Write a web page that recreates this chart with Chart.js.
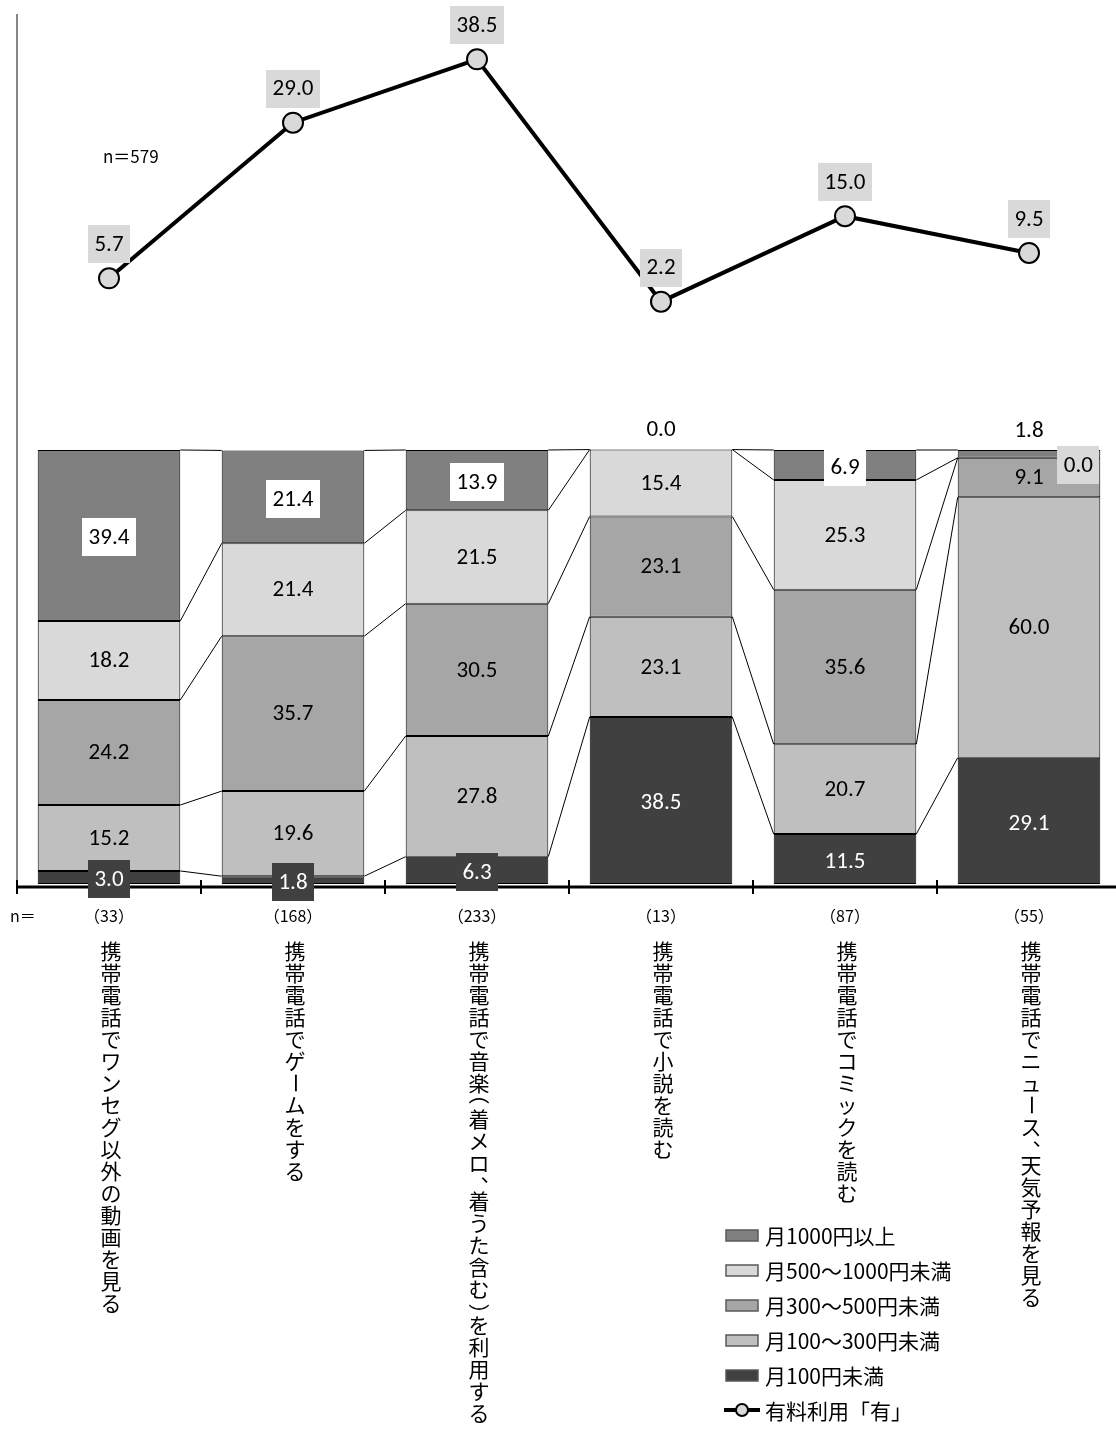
<!DOCTYPE html>
<html lang="ja">
<head>
  <meta charset="UTF-8" />
  <title>携帯電話の有料利用</title>
  <script src="https://cdn.jsdelivr.net/npm/chart.js"></script>
  <style>
    html, body {
      margin: 0;
      padding: 0;
      background: #fff;
      overflow: hidden;
    }

    canvas {
      display: block;
    }
  </style>
</head>
<body>
  <canvas id="usageChart" width="1121" height="1429"></canvas>

  <script>
    // Categories and respondents per category
    const categories = [
      '携帯電話でワンセグ以外の動画を見る',
      '携帯電話でゲームをする',
      '携帯電話で音楽（着メロ、着うた含む）を利用する',
      '携帯電話で小説を読む',
      '携帯電話でコミックを読む',
      '携帯電話でニュース、天気予報を見る'
    ];
    const sampleSizes = [33, 168, 233, 13, 87, 55];
    const totalN = 579;

    // Monthly spend breakdown (%), stacked from the bottom up
    const under100 = [3.0, 1.8, 6.3, 38.5, 11.5, 29.1];
    const from100to300 = [15.2, 19.6, 27.8, 23.1, 20.7, 60.0];
    const from300to500 = [24.2, 35.7, 30.5, 23.1, 35.6, 9.1];
    const from500to1000 = [18.2, 21.4, 21.5, 15.4, 25.3, 0.0];
    const over1000 = [39.4, 21.4, 13.9, 0.0, 6.9, 1.8];

    // Share that pays at all (%)
    const paidUse = [5.7, 29.0, 38.5, 2.2, 15.0, 9.5];

    const seriesNames = ['月100円未満', '月100～300円未満', '月300～500円未満', '月500～1000円未満', '月1000円以上'];
    const seriesColors = ['#404040', '#bfbfbf', '#a6a6a6', '#d9d9d9', '#808080'];
    const barSeries = [under100, from100to300, from300to500, from500to1000, over1000];
    const lineName = '有料利用「有」';

    const numFont = '23px Carlito, Lato, sans-serif';
    const jpFont = '"Noto Sans CJK JP", sans-serif';

    // value text, optionally on a filled tag
    function drawTag(ctx, text, x, y, fill, color) {
      ctx.font = numFont;
      const w = Math.round(ctx.measureText(text).width + 13);
      if (fill) {
        ctx.fillStyle = fill;
        ctx.fillRect(Math.round(x - w / 2), Math.round(y - 19), w, 38);
      }
      ctx.fillStyle = color;
      ctx.textAlign = 'center';
      ctx.textBaseline = 'middle';
      ctx.fillText(text, x, y + 1);
    }

    // top-to-bottom vertical writing, brackets and long vowel turned sideways
    function drawVertical(ctx, text, x, top) {
      let y = top;
      for (const ch of text) {
        const adv = '（）'.includes(ch) ? 14 : ch === '、' ? 16 : 22;
        const cy = y + adv / 2;
        if ('ー（）、'.includes(ch)) {
          ctx.textAlign = 'left';
          ctx.textBaseline = 'alphabetic';
          const m = ctx.measureText(ch);
          const gx = (m.actualBoundingBoxRight - m.actualBoundingBoxLeft) / 2;
          const gy = (m.actualBoundingBoxAscent - m.actualBoundingBoxDescent) / 2;
          ctx.save();
          if (ch === '、') {
            ctx.translate(x + 6, cy - 2);
          } else {
            ctx.translate(x, cy);
            ctx.rotate(Math.PI / 2);
          }
          ctx.fillText(ch, -gx, gy);
          ctx.restore();
        } else {
          ctx.textAlign = 'center';
          ctx.textBaseline = 'middle';
          ctx.fillText(ch, x, cy);
        }
        y += adv;
      }
    }

    // axis line with tick marks between categories
    const baseAxis = {
      id: 'baseAxis',
      beforeDatasetsDraw(chart) {
        const { ctx, chartArea } = chart;
        const xs = chart.scales.x;
        const step = xs.getPixelForValue(1) - xs.getPixelForValue(0);
        const y = chartArea.bottom + 3;
        ctx.save();
        ctx.strokeStyle = '#000';
        ctx.lineWidth = 3;
        ctx.beginPath();
        ctx.moveTo(chartArea.left, y);
        ctx.lineTo(chartArea.right, y);
        ctx.stroke();
        ctx.lineWidth = 2;
        for (let i = 0; i <= categories.length; i++) {
          const x = Math.round(xs.getPixelForValue(0) - step / 2 + i * step);
          ctx.beginPath();
          ctx.moveTo(x, y - 7);
          ctx.lineTo(x, y + 7);
          ctx.stroke();
        }
        ctx.restore();
      }
    };

    // series lines between bars, then the value labels
    const valueLabels = {
      id: 'valueLabels',
      afterDatasetsDraw(chart) {
        const ctx = chart.ctx;
        ctx.save();
        ctx.strokeStyle = '#000';
        ctx.lineWidth = 1;
        barSeries.forEach((s, d) => {
          const bars = chart.getDatasetMeta(d).data;
          for (let i = 0; i < bars.length - 1; i++) {
            const a = bars[i];
            const b = bars[i + 1];
            ctx.beginPath();
            ctx.moveTo(a.x + a.width / 2, a.y);
            ctx.lineTo(b.x - b.width / 2, b.y);
            ctx.stroke();
          }
        });

        barSeries.forEach((s, d) => {
          const bars = chart.getDatasetMeta(d).data;
          s.forEach((v, i) => {
            const el = bars[i];
            const text = v.toFixed(1);
            const mid = (el.y + el.base) / 2;
            if (d === 0) {
              drawTag(ctx, text, el.x, mid + 2, seriesColors[0], '#fff');
            } else if (d === 4) {
              if (v < 3) drawTag(ctx, text, el.x, el.y - 20, null, '#000');
              else drawTag(ctx, text, el.x, mid + 2, '#fff', '#000');
            } else if (v === 0) {
              drawTag(ctx, text, el.x + el.width / 2 - 22, el.y + 7, seriesColors[d], '#000');
            } else {
              drawTag(ctx, text, el.x, mid, null, '#000');
            }
          });
        });

        const pts = chart.getDatasetMeta(barSeries.length).data;
        paidUse.forEach((v, i) => {
          drawTag(ctx, v.toFixed(1), pts[i].x, pts[i].y - 34, '#d9d9d9', '#000');
        });
        ctx.restore();
      }
    };

    // n counts, vertical category names and the legend
    const sheetText = {
      id: 'sheetText',
      afterDraw(chart) {
        const { ctx, chartArea } = chart;
        const xs = chart.scales.x;
        ctx.save();
        ctx.fillStyle = '#000';

        ctx.font = '17px ' + jpFont;
        ctx.textAlign = 'left';
        ctx.textBaseline = 'middle';
        ctx.fillText('n＝' + totalN, 103, 157);

        const nY = chartArea.bottom + 32;
        ctx.font = '16px ' + jpFont;
        ctx.fillText('n＝', 10, nY);
        ctx.textAlign = 'center';
        sampleSizes.forEach((n, i) => {
          ctx.fillText('（' + n + '）', xs.getPixelForValue(i), nY);
        });

        ctx.font = '21px ' + jpFont;
        categories.forEach((name, i) => {
          drawVertical(ctx, name, xs.getPixelForValue(i) + 2, chartArea.bottom + 56);
        });

        // legend
        const lx = 726;
        let ly = 1235;
        ctx.font = '21px ' + jpFont;
        for (let d = barSeries.length - 1; d >= 0; d--) {
          ctx.fillStyle = seriesColors[d];
          ctx.fillRect(lx, ly - 5, 32, 11);
          ctx.strokeStyle = '#595959';
          ctx.lineWidth = 1.5;
          ctx.strokeRect(lx, ly - 5, 32, 11);
          ctx.fillStyle = '#000';
          ctx.textAlign = 'left';
          ctx.textBaseline = 'middle';
          ctx.fillText(seriesNames[d], lx + 39, ly + 1);
          ly += 35;
        }
        ctx.strokeStyle = '#000';
        ctx.lineWidth = 4;
        ctx.beginPath();
        ctx.moveTo(lx - 2, ly);
        ctx.lineTo(lx + 34, ly);
        ctx.stroke();
        ctx.beginPath();
        ctx.arc(lx + 16, ly, 6, 0, Math.PI * 2);
        ctx.fillStyle = '#d9d9d9';
        ctx.fill();
        ctx.lineWidth = 2;
        ctx.stroke();
        ctx.fillStyle = '#000';
        ctx.fillText(lineName, lx + 39, ly + 1);
        ctx.restore();
      }
    };

    const datasets = barSeries.map((s, d) => ({
      type: 'bar',
      label: seriesNames[d],
      data: s,
      backgroundColor: seriesColors[d],
      borderColor: '#000',
      borderWidth: 1,
      borderSkipped: false,
      yAxisID: 'y',
      order: 1
    }));
    datasets.push({
      type: 'line',
      label: lineName,
      data: paidUse,
      yAxisID: 'y2',
      borderColor: '#000',
      borderWidth: 4,
      tension: 0,
      pointRadius: 10,
      pointBorderWidth: 2,
      pointBackgroundColor: '#d9d9d9',
      pointBorderColor: '#000',
      clip: false,
      order: 0
    });

    new Chart(document.getElementById('usageChart'), {
      data: { labels: categories, datasets },
      options: {
        responsive: false,
        animation: false,
        devicePixelRatio: 1,
        layout: {
          autoPadding: false,
          padding: { left: 17, top: 15, right: 0, bottom: 545 }
        },
        datasets: {
          bar: { barPercentage: 0.775, categoryPercentage: 1 }
        },
        scales: {
          x: { display: false, stacked: true },
          y: {
            stacked: true,
            min: 0,
            max: 200.23,
            grid: { display: false, drawTicks: false },
            ticks: { display: false },
            border: { display: true, color: '#878787', width: 2 }
          },
          y2: { display: false, min: -85, max: 45.13 }
        },
        plugins: {
          legend: { display: false },
          tooltip: { enabled: false }
        }
      },
      plugins: [baseAxis, valueLabels, sheetText]
    });
  </script>
</body>
</html>
